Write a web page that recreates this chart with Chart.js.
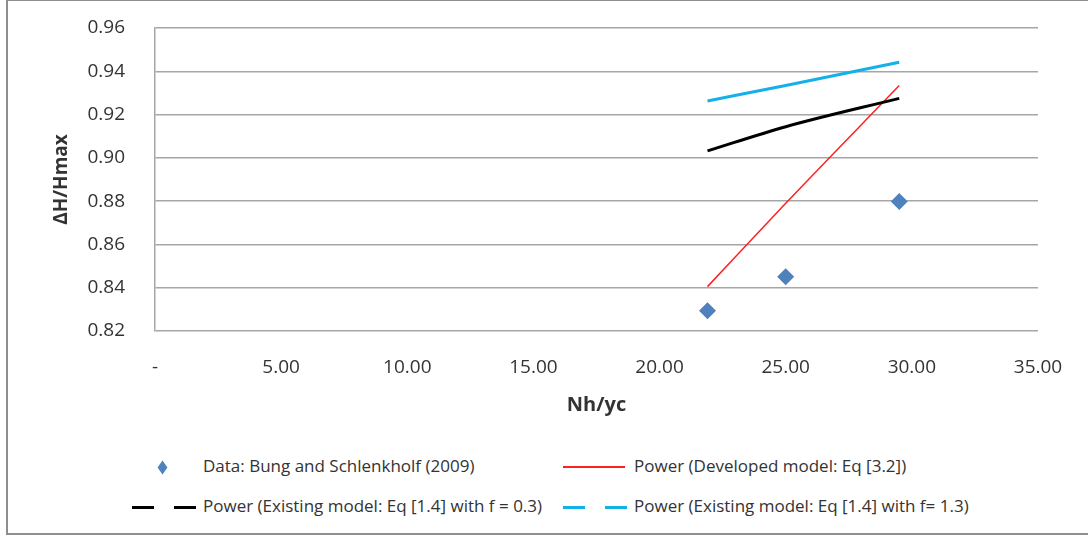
<!DOCTYPE html>
<html>
<head>
<meta charset="utf-8">
<script src="https://cdn.jsdelivr.net/npm/chart.js@4/dist/chart.umd.min.js"></script>
<style>
  html, body { margin: 0; padding: 0; background: #fff; }
  #wrap { position: relative; width: 1088px; height: 539px; overflow: hidden; font-family: 'Open Sans', sans-serif; }
  #frame { position: absolute; left: 6px; top: -1px; width: 1100px; height: 536px; border: 2px solid #8e8e8e; box-sizing: border-box; }
  #chartBox { position: absolute; left: 0; top: 0; width: 1088px; height: 421px; }
  .lg { position: absolute; font-size: 17px; color: #333; white-space: nowrap; line-height: 20px; }
  .mk { position: absolute; }
</style>
</head>
<body>
<div id="wrap">
  <div id="frame"></div>
  <div id="chartBox"><canvas id="c"></canvas></div>
  <div id="legend"></div>
</div>
<script>
/* ===== data ===== */
const xTicks    = [0, 5, 10, 15, 20, 25, 30, 35];
const yTicks    = [0.82, 0.84, 0.86, 0.88, 0.90, 0.92, 0.94, 0.96];
const dataX     = [21.9, 25.0, 29.5];
const dataY     = [0.8293, 0.8451, 0.8798];
const fitX      = [21.9, 25.0, 29.5];
const devModel  = [0.8405, 0.8790, 0.9334];
const exModel03 = [0.9032, 0.9144, 0.9275];
const exModel13 = [0.9263, 0.9334, 0.9442];
const seriesNames = [
  'Data: Bung and Schlenkholf (2009)',
  'Power (Developed model: Eq [3.2])',
  'Power (Existing model: Eq [1.4] with f = 0.3)',
  'Power (Existing model: Eq [1.4] with f= 1.3)'
];

const pts = (xs, ys) => xs.map((x, i) => ({ x, y: ys[i] }));

/* ===== chart ===== */
const chart = new Chart(document.getElementById('c'), {
  type: 'scatter',
  data: {
    datasets: [
      { label: seriesNames[0], data: pts(dataX, dataY), pointStyle: 'rectRot',
        pointRadius: 8.5, backgroundColor: '#4f81bd', borderColor: '#4f81bd', borderWidth: 0, order: 0 },
      { label: seriesNames[1], data: pts(fitX, devModel), showLine: true, pointRadius: 0,
        borderColor: '#ff2020', borderWidth: 1.5, cubicInterpolationMode: 'monotone', order: 3 },
      { label: seriesNames[2], data: pts(fitX, exModel03), showLine: true, pointRadius: 0,
        borderColor: '#000000', borderWidth: 3, cubicInterpolationMode: 'monotone', order: 2 },
      { label: seriesNames[3], data: pts(fitX, exModel13), showLine: true, pointRadius: 0,
        borderColor: '#14b0ea', borderWidth: 3, cubicInterpolationMode: 'monotone', order: 1 }
    ]
  },
  options: {
    responsive: true,
    maintainAspectRatio: false,
    animation: false,
    layout: { padding: { left: 50, right: 50, top: 28, bottom: 0 } },
    plugins: { legend: { display: false }, tooltip: { enabled: false } },
    scales: {
      x: {
        type: 'linear', min: 0, max: 35,
        afterBuildTicks: s => { s.ticks = xTicks.map(v => ({ value: v })); },
        afterFit: s => { s.height = 90; },
        grid: { display: false, drawTicks: false },
        border: { display: false },
        ticks: { padding: 25, color: '#333', font: { family: 'Open Sans', size: 19 },
                 callback: v => v === 0 ? '-' : v.toFixed(2) },
        title: { display: true, text: 'Nh/yc', color: '#333', padding: { top: 0, bottom: 4 },
                 font: { family: 'Open Sans', size: 20, weight: 'bold' } }
      },
      y: {
        type: 'linear', min: 0.82, max: 0.96,
        afterBuildTicks: s => { s.ticks = yTicks.map(v => ({ value: v })); },
        // tick padding would otherwise push the plot down
        afterFit: s => { s.width = 105; s.paddingTop = 12; s.paddingBottom = 12; },
        grid: { color: '#a6a6a6', lineWidth: 1.5, drawTicks: false },
        border: { display: true, color: '#a6a6a6', width: 1.5 },
        ticks: { padding: 30, color: '#333', font: { family: 'Open Sans', size: 19 },
                 callback: v => v.toFixed(2) },
        title: { display: true, text: 'ΔH/Hmax', color: '#333', padding: 0,
                 font: { family: 'Open Sans', size: 19, weight: 'bold' } }
      }
    }
  }
});

/* ===== legend (2 x 2 grid) ===== */
const legend = document.getElementById('legend');
const cells = [
  { col: 0, row: 0 }, { col: 1, row: 0 }, { col: 0, row: 1 }, { col: 1, row: 1 }
];
const colText = [203, 634];
const rowY    = [467, 507];

chart.data.datasets.forEach((ds, i) => {
  const { col, row } = cells[i];
  const cy = rowY[row];
  const t = document.createElement('div');
  t.className = 'lg';
  t.style.left = colText[col] + 'px';
  t.style.top = (cy - 11) + 'px';
  t.textContent = ds.label;
  legend.appendChild(t);

  const mk = (l, w, h, extra) => {
    const m = document.createElement('div');
    m.className = 'mk';
    m.style.left = l + 'px';
    m.style.top = (cy - h / 2) + 'px';
    m.style.width = w + 'px';
    m.style.height = h + 'px';
    m.style.background = ds.borderColor;
    if (extra) Object.assign(m.style, extra);
    legend.appendChild(m);
  };
  const mx = colText[col] - 71;
  if (i === 0) {
    mk(159, 7, 7, { transform: 'scaleY(1.4) rotate(45deg)' });
  } else if (i === 1) {
    mk(mx, 62, 2);
  } else {
    mk(mx, 22, 3);
    mk(mx + 42, 22, 3);
  }
});
</script>
</body>
</html>
